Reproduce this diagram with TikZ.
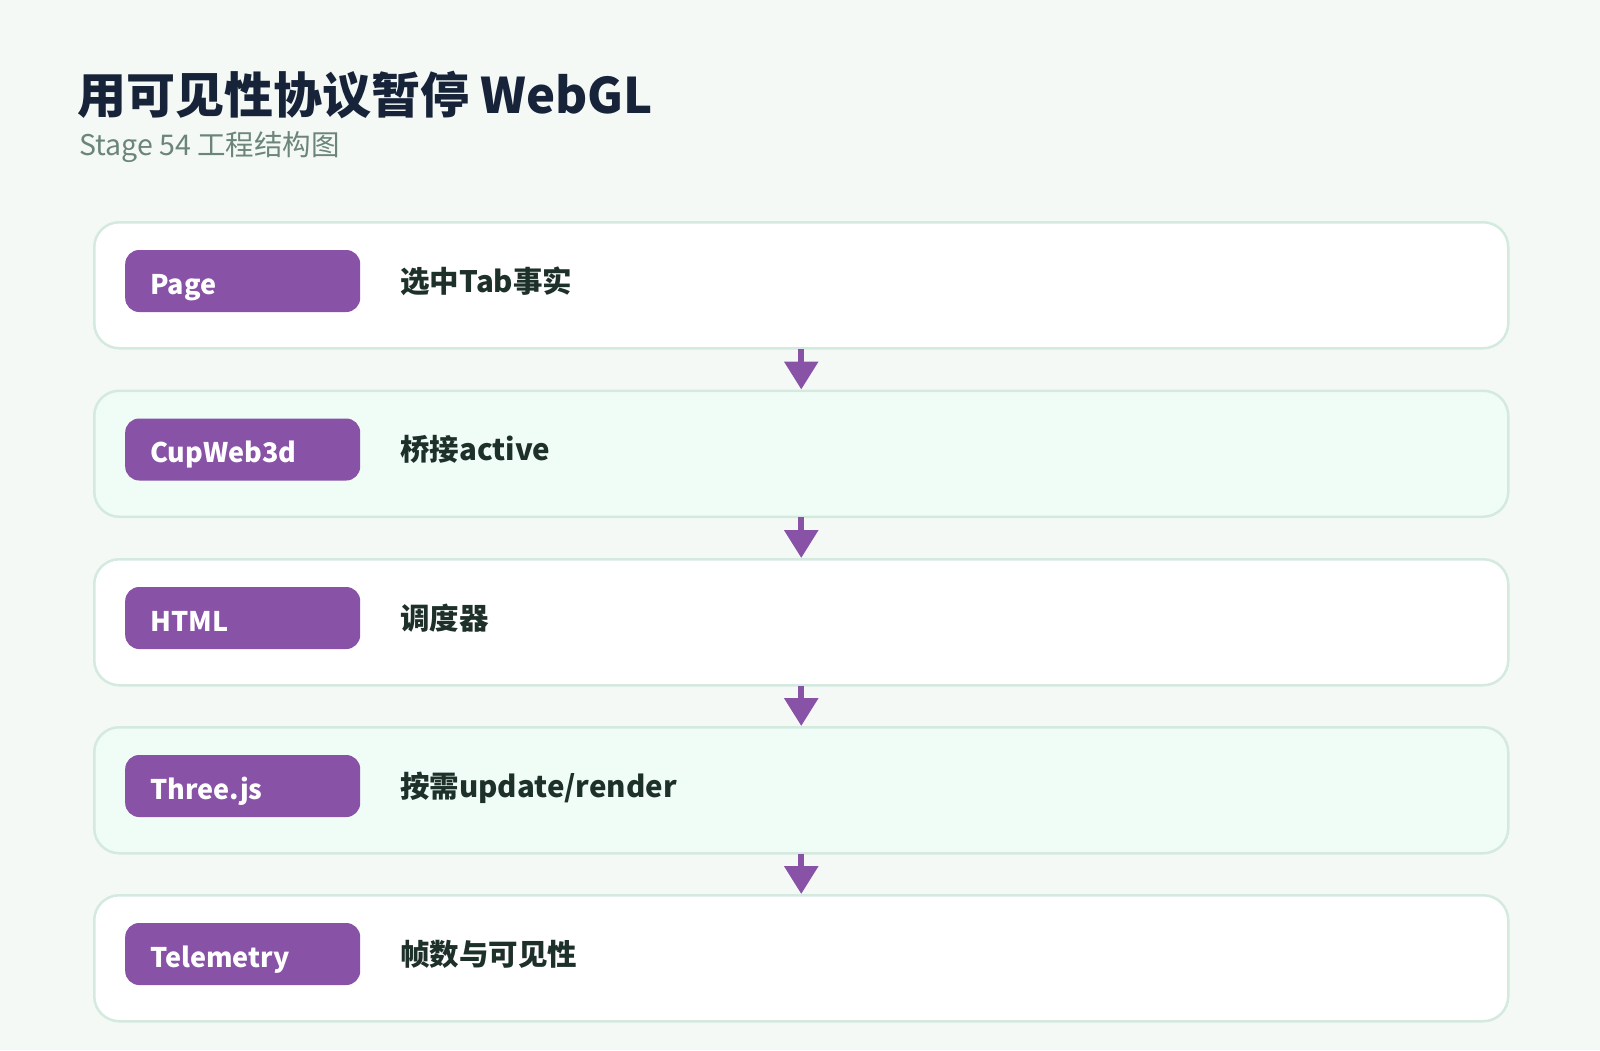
\documentclass[tikz,border=0pt]{standalone}
\usepackage{fontspec}
\setmainfont{Noto Sans CJK SC}
\usetikzlibrary{arrows.meta}
\definecolor{bgc}{HTML}{F4F9F6}
\definecolor{rowborder}{HTML}{D4EADF}
\definecolor{rowalt}{HTML}{F0FDF6}
\definecolor{pillc}{HTML}{8852A6}
\definecolor{titlec}{HTML}{172338}
\definecolor{subc}{HTML}{6B8579}
\definecolor{labelc}{HTML}{1E302A}
\tikzset{
  rowbox/.style={draw=rowborder, line width=2.5pt, rounded corners=25pt, minimum width=1414pt, minimum height=126pt, inner sep=0pt, anchor=north west},
  pillbox/.style={fill=pillc, rounded corners=14pt, minimum width=235pt, minimum height=62pt, text width=185pt, text height=30pt, text depth=4pt, align=left, inner xsep=25pt, inner ysep=0pt, anchor=west, text=white, font=\fontsize{27}{32}\selectfont\bfseries},
  rowlabel/.style={anchor=base west, inner sep=0pt, text=labelc, font=\fontsize{29.5}{34}\selectfont\bfseries},
  flowarrow/.style={draw=pillc, line width=6pt, -{Triangle[width=33pt,length=28pt]}, shorten <=-1pt, shorten >=0pt}
}
\begin{document}
\begin{tikzpicture}[x=1pt,y=-1pt]
\fill[bgc] (0,0) rectangle (1600,1050);
\useasboundingbox (0,0) rectangle (1600,1050);
\node[anchor=base west, inner sep=0pt, text=titlec, font=\fontsize{49}{58}\selectfont\bfseries] (title) at (77,113) {用可见性协议暂停 WebGL};
\node[anchor=base west, inner sep=0pt, text=subc, font=\fontsize{28.5}{32}\selectfont] (subtitle) at (79,155) {Stage 54 工程结构图};
% rows
\node[rowbox, fill=white] (r1) at (93,221) {};
\node[rowbox, fill=rowalt] (r2) at (93,389.5) {};
\node[rowbox, fill=white] (r3) at (93,558) {};
\node[rowbox, fill=rowalt] (r4) at (93,726) {};
\node[rowbox, fill=white] (r5) at (93,894) {};
% pills
\node[pillbox] (p1) at (125,281) {Page};
\node[pillbox] (p2) at (125,449.5) {CupWeb3d};
\node[pillbox] (p3) at (125,618) {HTML};
\node[pillbox] (p4) at (125,786) {Three.js};
\node[pillbox] (p5) at (125,954) {Telemetry};
% labels
\node[rowlabel] (l1) at (400,292) {选中Tab事实};
\node[rowlabel] (l2) at (400,460.5) {桥接active};
\node[rowlabel] (l3) at (400,629) {调度器};
\node[rowlabel] (l4) at (400,797) {按需update/render};
\node[rowlabel] (l5) at (400,965) {帧数与可见性};
% arrows
\draw[flowarrow] (r1.south) -- (r2.north);
\draw[flowarrow] (r2.south) -- (r3.north);
\draw[flowarrow] (r3.south) -- (r4.north);
\draw[flowarrow] (r4.south) -- (r5.north);
\end{tikzpicture}
\end{document}
